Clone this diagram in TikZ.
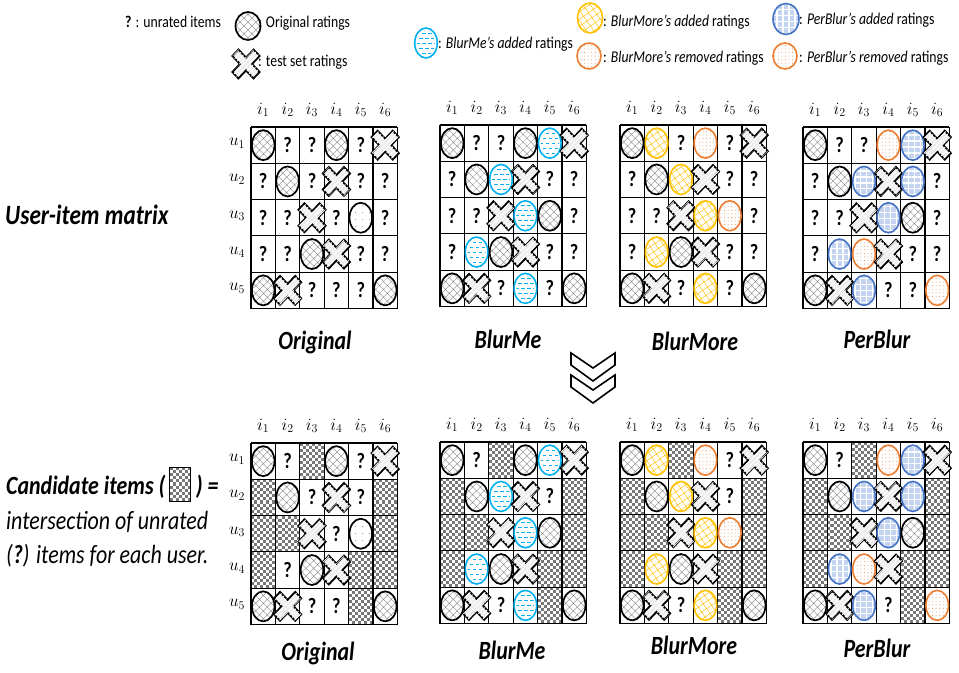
\documentclass[tikz,border=0pt]{standalone}
\usepackage{graphicx}
\usepackage[no-math]{fontspec}
\setmainfont{Carlito}
\usetikzlibrary{patterns,patterns.meta,calc}

\definecolor{cyanB}{RGB}{0,176,240}
\definecolor{yellowY}{RGB}{255,192,0}
\definecolor{orangeR}{RGB}{237,125,49}
\definecolor{blueP}{RGB}{68,114,196}
\definecolor{lightP}{RGB}{196,212,240}
\definecolor{checkgray}{RGB}{120,120,120}

% narrow set text
\newcommand\squeeze[1]{\scalebox{0.833}[1]{#1}}

% cell size of the rating grids
\def\cellw{24.4}
\def\cellh{36.3}
% ellipse radii of the rating marks
\def\erx{11.3bp}
\def\ery{15bp}

% ---------- rating marks, drawn at a cell centre ----------
\newcommand\ellpath[2]{(#1,#2) ellipse [x radius=\erx, y radius=\ery]}
\newcommand\symO[2]{%
  \fill[white] \ellpath{#1}{#2};
  \fill[pattern={Hatch[angle=45,distance=5.5pt,line width=0.35pt]},pattern color=gray] \ellpath{#1}{#2};
  \draw[line width=1.7bp] \ellpath{#1}{#2};}
\newcommand\symD[2]{%
  \fill[white] \ellpath{#1}{#2};
  \fill[pattern={Dots[distance=7pt,radius=0.5pt]},pattern color=gray] \ellpath{#1}{#2};
  \draw[line width=1.7bp] \ellpath{#1}{#2};}
\newcommand\symB[2]{%
  \fill[white] \ellpath{#1}{#2};
  \begin{scope}
    \clip (#1,#2) ellipse [x radius=9bp, y radius=13bp];
    \foreach \dy/\ph in {-10/0bp,-5/3bp,0/0bp,5/3bp,10/0bp}
      \draw[cyanB,line width=0.9bp,dash pattern=on 3.5bp off 2.5bp,dash phase=\ph]
        ({#1-10},{#2+\dy}) -- ({#1+10},{#2+\dy});
  \end{scope}
  \draw[cyanB,line width=1.6bp] \ellpath{#1}{#2};}
\newcommand\symY[2]{%
  \fill[white] \ellpath{#1}{#2};
  \fill[pattern={Hatch[angle=35,distance=6pt,line width=0.45pt]},pattern color=yellowY] \ellpath{#1}{#2};
  \draw[yellowY,line width=1.6bp] \ellpath{#1}{#2};}
\newcommand\symR[2]{%
  \fill[white] \ellpath{#1}{#2};
  \fill[pattern={Dots[distance=3.6pt,radius=0.45pt]},pattern color=orangeR] \ellpath{#1}{#2};
  \draw[orangeR,line width=1.6bp] \ellpath{#1}{#2};}
\newcommand\symP[2]{%
  \fill[lightP] \ellpath{#1}{#2};
  \fill[pattern={Hatch[angle=0,distance=6pt,line width=1.4pt]},pattern color=white] \ellpath{#1}{#2};
  \draw[blueP,line width=1.6bp] \ellpath{#1}{#2};}
\newcommand\symX[2]{%
  \begin{scope}[shift={(#1,#2)},yscale=1.06,rotate=45]
    \draw[line width=1.8bp,line join=miter,fill=gray!14,
      postaction={pattern={Lines[angle=45,distance=3.5pt,line width=0.9pt]},pattern color=white}]
      (4.3,15) -- (4.3,4.3) -- (15,4.3) -- (15,-4.3) -- (4.3,-4.3) -- (4.3,-15)
      -- (-4.3,-15) -- (-4.3,-4.3) -- (-15,-4.3) -- (-15,4.3) -- (-4.3,4.3) -- (-4.3,15) -- cycle;
  \end{scope}}
\newcommand\symQ[2]{\node[qmark] at (#1,#2) {\squeeze{?}};}
\newcommand\symC[2]{}

% checkerboard filling of a whole cell, given its top-left corner
\newcommand\checkercell[2]{%
  \pgfmathsetmacro\qx{#1}\pgfmathsetmacro\qy{#2}%
  \fill[white] (\qx,\qy) rectangle ++(\cellw,\cellh);
  \foreach \a in {0,2,4,6}{\foreach \b in {0,2,...,10}{%
    \fill[checkgray] ({\qx+\a*\cellw/8},{\qy+\b*\cellh/12}) rectangle ++({\cellw/8},{\cellh/12});
    \fill[checkgray] ({\qx+(\a+1)*\cellw/8},{\qy+(\b+1)*\cellh/12}) rectangle ++({\cellw/8},{\cellh/12});
  }}}

% a 5x6 rating grid: name, left, top, rows of cell codes
\newcommand\ratingmatrix[4]{%
  \foreach \row [count=\ri] in {#4}{%
    \foreach \code [count=\ci] in \row {%
      \if C\code \checkercell{#2+(\ci-1)*\cellw}{#3+(\ri-1)*\cellh}\fi
    }}%
  \foreach \k in {0,...,6} \draw[gridline] ({#2+\k*\cellw},#3) -- ++(0,5*\cellh);
  \foreach \k in {0,...,5} \draw[gridline] (#2,{#3+\k*\cellh}) -- ++(6*\cellw,0);
  \foreach \row [count=\ri] in {#4}{%
    \foreach \code [count=\ci] in \row {%
      \pgfmathsetmacro\cx{#2+(\ci-0.5)*\cellw}%
      \pgfmathsetmacro\cy{#3+(\ri-0.5)*\cellh}%
      \csname sym\code\endcsname{\cx}{\cy}
    }}%
  \foreach \k in {1,...,6}
    \node[collabel] (#1-i\k) at ({#2+(\k-0.5)*\cellw},{#3-17}) {$i_{\k}$};
}
\newcommand\userlabels[2]{%
  \foreach \k in {1,...,5}
    \node[collabel] (#1-u\k) at (237,{#2+(\k-0.5)*\cellh-2}) {$u_{\k}$};
}

\begin{document}
\begin{tikzpicture}[x=1bp,y=-1bp,
  gridline/.style={line width=1.1bp,black},
  qmark/.style={font=\fontsize{22}{22}\selectfont\bfseries,inner sep=0pt},
  collabel/.style={font=\fontsize{17.28}{20}\selectfont,inner sep=0pt},
  legtext/.style={font=\fontsize{16.5}{18}\selectfont,anchor=west,inner sep=0pt},
  title/.style={font=\fontsize{26.4}{30}\selectfont\bfseries\itshape,inner sep=0pt},
  sidetext/.style={font=\fontsize{26.4}{30}\selectfont\itshape,anchor=west,inner sep=0pt},
  sidebold/.style={sidetext,font=\fontsize{26.4}{30}\selectfont\bfseries\itshape},
  chevron/.style={line width=1.6bp,line join=miter}]
\useasboundingbox (0,0) rectangle (959,673);
\fill[white] (0,0) rectangle (959,673);

% ---------- legend ----------
\node[legtext] (leg-q) at (125,22) {\squeeze{\textbf{?} : unrated items}};
\begin{scope}\def\erx{12.5bp}\def\ery{14bp}\symO{248}{26}\end{scope}
\node[legtext] (leg-o) at (258,23) {\squeeze{: Original ratings}};
\symX{246}{64}
\node[legtext] (leg-x) at (258,62) {\squeeze{: test set ratings}};
\symB{426}{43}
\node[legtext] (leg-b) at (438,44) {\squeeze{: \textit{BlurMe’s added} ratings}};
\begin{scope}\def\erx{12.5bp}\def\ery{15bp}\symY{590}{18}\end{scope}
\node[legtext] (leg-y) at (603,22) {\squeeze{: \textit{BlurMore’s added} ratings}};
\begin{scope}\def\erx{12bp}\def\ery{13bp}\symR{589}{56}\end{scope}
\node[legtext] (leg-r1) at (603,58) {\squeeze{: \textit{BlurMore’s removed} ratings}};
\begin{scope}\def\erx{13bp}\def\ery{15.5bp}\symP{786}{19}\end{scope}
\node[legtext] (leg-p) at (799,20) {\squeeze{: \textit{PerBlur’s added} ratings}};
\begin{scope}\def\erx{12bp}\def\ery{13bp}\symR{785}{56}\end{scope}
\node[legtext] (leg-r2) at (799,58) {\squeeze{: \textit{PerBlur’s removed} ratings}};

% ---------- user-item matrices ----------
\node[sidebold,font=\fontsize{28}{30}\selectfont\bfseries\itshape] (uim) at (5,215) {\squeeze{User-item matrix}};

\ratingmatrix{ot}{251}{127}{{O,Q,Q,O,Q,X},{Q,O,Q,X,Q,Q},{Q,Q,X,Q,D,Q},{Q,Q,O,X,Q,Q},{O,X,Q,Q,Q,O}}
\userlabels{ot}{127}
\ratingmatrix{bt}{440}{125}{{O,Q,Q,O,B,X},{Q,O,B,X,Q,Q},{Q,Q,X,B,O,Q},{Q,B,O,X,Q,Q},{O,X,Q,B,Q,O}}
\ratingmatrix{mt}{620}{125}{{O,Y,Q,R,Q,X},{Q,O,Y,X,Q,Q},{Q,Q,X,Y,R,Q},{Q,Y,O,X,Q,Q},{O,X,Q,Y,Q,O}}
\ratingmatrix{pt}{803}{127}{{O,Q,Q,R,P,X},{Q,O,P,X,P,Q},{Q,Q,X,P,O,Q},{Q,P,R,X,Q,Q},{O,X,P,Q,Q,R}}

\node[title] (t-orig) at (315,342) {\squeeze{Original}};
\node[title] (t-me) at (508,339) {\squeeze{BlurMe}};
\node[title] (t-more) at (695,341) {\squeeze{BlurMore}};
\node[title] (t-per) at (877,339) {\squeeze{PerBlur}};

% ---------- double chevron ----------
\draw[chevron] (571,353) -- (593,368) -- (615,353) -- (615,365) -- (593,381) -- (571,365) -- cycle;
\draw[chevron] (571,375) -- (593,390) -- (615,375) -- (615,387) -- (593,403) -- (571,387) -- cycle;

% ---------- candidate items ----------
\node[sidebold] (cand) at (6,487) {\squeeze{Candidate items (}};
\begin{scope}[shift={($(cand.east)+(4,-20)$)}]
  \fill[white] (0,0) rectangle (21,34);
  \foreach \a in {0,2,4,6}{\foreach \b in {0,2,...,10}{%
    \fill[checkgray] ({\a*3},{\b*34/11}) rectangle ++(3,{34/11});
    \fill[checkgray] ({(\a+1)*3},{(\b+1)*34/11}) rectangle ++(3,{34/11});}}
  \fill[white] (0,34) rectangle (21,37.1);
  \fill[white] (21,0) rectangle (24,37.1);
  \draw[line width=0.8bp] (0,0) rectangle (21,34);
\end{scope}
\node[sidebold] (cand2) at ($(cand.east)+(30,0)$) {\squeeze{) =}};
\node[sidetext] (cand3) at (6,522) {\squeeze{intersection of unrated}};
\node[sidetext] (cand4) at (6,556) {\squeeze{(\textbf{?}) items for each user.}};

\ratingmatrix{ob}{251}{443}{{O,Q,C,O,Q,X},{C,O,Q,X,Q,C},{C,C,X,Q,D,C},{C,Q,O,X,C,C},{O,X,Q,Q,C,O}}
\userlabels{ob}{443}
\ratingmatrix{bb}{440}{442}{{O,Q,C,O,B,X},{C,O,B,X,Q,C},{C,C,X,B,O,C},{C,B,O,X,C,C},{O,X,Q,B,C,O}}
\ratingmatrix{mb}{620}{442}{{O,Y,C,R,Q,X},{C,O,Y,X,Q,C},{C,C,X,Y,R,C},{C,Y,O,X,C,C},{O,X,Q,Y,C,O}}
\ratingmatrix{pb}{803}{442}{{O,Q,C,R,P,X},{C,O,P,X,P,C},{C,C,X,P,O,C},{C,P,R,X,C,C},{O,X,P,Q,C,R}}

\node[title] (b-orig) at (318,653) {\squeeze{Original}};
\node[title] (b-me) at (512,650) {\squeeze{BlurMe}};
\node[title] (b-more) at (694,645) {\squeeze{BlurMore}};
\node[title] (b-per) at (877,648) {\squeeze{PerBlur}};
\end{tikzpicture}
\end{document}
